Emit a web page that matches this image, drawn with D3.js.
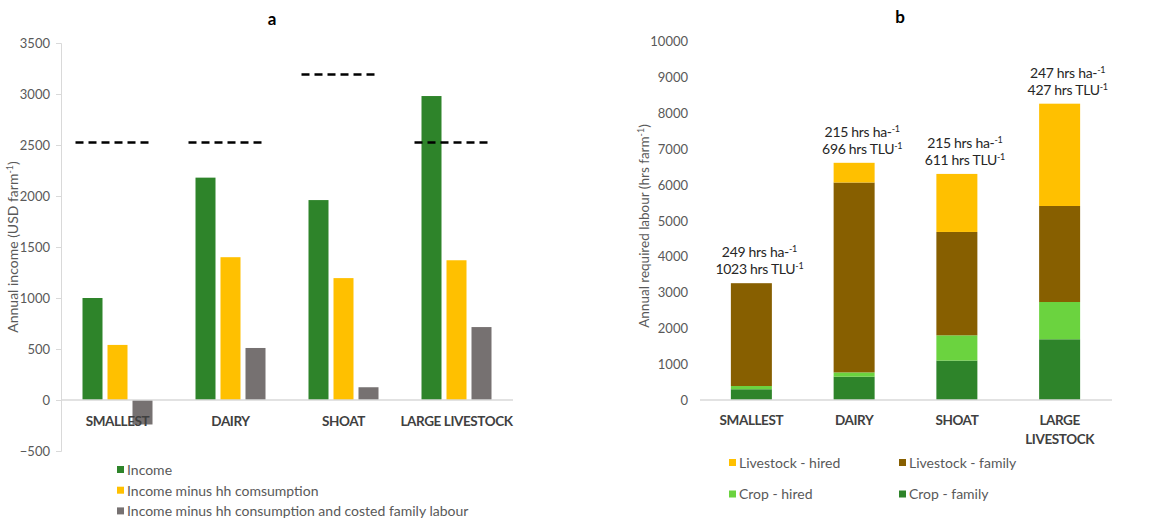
<!DOCTYPE html>
<html>
<head>
<meta charset="utf-8">
<script src="https://cdn.jsdelivr.net/npm/d3@7"></script>
<style>
  body { margin: 0; background: #fff; }
  svg { font-family: Lato, "Liberation Sans", sans-serif; }
</style>
</head>
<body>
<svg id="chart" width="1176" height="518"></svg>
<script>
// ---- data: panel a (income) ----
const categoriesA = ["SMALLEST", "DAIRY", "SHOAT", "LARGE LIVESTOCK"];
const income = [1000, 2180, 1960, 2980];
const incomeMinusHh = [540, 1400, 1195, 1370];
const incomeMinusHhLabour = [-240, 510, 125, 715];
const povertyLine = [2525, 2525, 3190, 2525];
const ticksA = [-500, 0, 500, 1000, 1500, 2000, 2500, 3000, 3500];
const seriesA = ["Income", "Income minus hh comsumption", "Income minus hh consumption and costed family labour"];

// ---- data: panel b (labour) ----
const categoriesB = ["SMALLEST", "DAIRY", "SHOAT", "LARGE LIVESTOCK"];
const cropFamily = [300, 650, 1100, 1695];
const cropHired = [90, 120, 705, 1040];
const livestockFamily = [2870, 5300, 2885, 2680];
const livestockHired = [0, 550, 1620, 2855];
const perHa = [249, 215, 215, 247];
const perTlu = [1023, 696, 611, 427];
const ticksB = [0, 1000, 2000, 3000, 4000, 5000, 6000, 7000, 8000, 9000, 10000];

const green = "#2e842a", yellow = "#ffc000", grey = "#767171";
const lightGreen = "#6bd33f", brown = "#875f00";
const tickColor = "#595959", axisColor = "#d9d9d9", catColor = "#404040";

const svg = d3.select("#chart");

// ================= panel a =================
const yA = d3.scaleLinear().domain([-500, 3500]).range([451, 43]);
const xA = d3.scaleBand().domain(categoriesA).range([61, 513]);
const barW = 20, barGap = 5;
const colorsA = [green, yellow, grey];
const valuesA = [income, incomeMinusHh, incomeMinusHhLabour];

svg.append("text")
  .attr("x", 272).attr("y", 25)
  .attr("text-anchor", "middle")
  .attr("font-weight", "bold").attr("font-size", 17)
  .attr("fill", "#000").text("a");

// y axis
const gA = svg.append("g").attr("transform", "translate(61,0)");
gA.call(d3.axisLeft(yA).tickValues(ticksA).tickSize(5).tickPadding(6).tickFormat(d3.format("d")));
gA.select(".domain").attr("stroke", axisColor);
gA.selectAll(".tick line").attr("stroke", axisColor);
gA.selectAll(".tick text").attr("fill", tickColor).attr("font-size", 13).attr("font-family", "Lato, sans-serif");

svg.append("text")
  .attr("transform", `translate(18,${(yA(3500) + yA(-500)) / 2}) rotate(-90)`)
  .attr("text-anchor", "middle")
  .attr("font-size", 14).attr("fill", tickColor)
  .call(t => {
    t.append("tspan").text("Annual income (USD farm");
    t.append("tspan").attr("font-size", 9).attr("dy", -5).text("-1");
    t.append("tspan").attr("dy", 5).text(")");
  });

// bars
valuesA.forEach((vals, s) => {
  svg.append("g").selectAll("rect")
    .data(vals)
    .join("rect")
    .attr("x", (d, i) => xA(categoriesA[i]) + xA.bandwidth() / 2 - (3 * barW + 2 * barGap) / 2 + s * (barW + barGap))
    .attr("y", d => yA(Math.max(0, d)))
    .attr("width", barW)
    .attr("height", d => Math.abs(yA(d) - yA(0)))
    .attr("fill", colorsA[s]);
});

// x axis line at zero
svg.append("line")
  .attr("x1", 61).attr("x2", 513)
  .attr("y1", yA(0)).attr("y2", yA(0))
  .attr("stroke", axisColor).attr("stroke-width", 1.5);

// dashed reference lines
svg.append("g").selectAll("line")
  .data(povertyLine)
  .join("line")
  .attr("x1", (d, i) => xA(categoriesA[i]) + xA.bandwidth() / 2 - 42)
  .attr("x2", (d, i) => xA(categoriesA[i]) + xA.bandwidth() / 2 + 36)
  .attr("y1", d => yA(d)).attr("y2", d => yA(d))
  .attr("stroke", "#000").attr("stroke-width", 2.5)
  .attr("stroke-dasharray", "8,5");

// category labels
svg.append("g").selectAll("text")
  .data(categoriesA)
  .join("text")
  .attr("x", d => xA(d) + xA.bandwidth() / 2)
  .attr("y", 426)
  .attr("text-anchor", "middle")
  .attr("font-weight", "bold").attr("font-size", 13.5)
  .attr("letter-spacing", -0.4)
  .attr("fill", catColor)
  .text(d => d);

// legend a
const legA = svg.append("g").selectAll("g")
  .data(seriesA)
  .join("g")
  .attr("transform", (d, i) => `translate(117,${470 + i * 20.7})`);
legA.append("rect").attr("x", 0).attr("y", -4).attr("width", 7).attr("height", 7)
  .attr("fill", (d, i) => colorsA[i]);
legA.append("text").attr("x", 10).attr("y", 4.8)
  .attr("font-size", 14).attr("fill", tickColor).text(d => d);

// ================= panel b =================
const yB = d3.scaleLinear().domain([0, 10000]).range([400, 41.7]);
const xB = d3.scaleBand().domain(categoriesB).range([700, 1111]);
const stackW = 41;

svg.append("text")
  .attr("x", 900).attr("y", 23)
  .attr("text-anchor", "middle")
  .attr("font-weight", "bold").attr("font-size", 17)
  .attr("fill", "#000").text("b");

const gB = svg.append("g").attr("transform", "translate(700,0)");
gB.call(d3.axisLeft(yB).tickValues(ticksB).tickSize(0).tickPadding(12).tickFormat(d3.format("d")));
gB.select(".domain").remove();
gB.selectAll(".tick text").attr("fill", tickColor).attr("font-size", 13).attr("font-family", "Lato, sans-serif");

svg.append("text")
  .attr("transform", `translate(649,226) rotate(-90)`)
  .attr("text-anchor", "middle")
  .attr("font-size", 13.5).attr("fill", tickColor)
  .call(t => {
    t.append("tspan").text("Annual required labour (hrs farm");
    t.append("tspan").attr("font-size", 9).attr("dy", -5).text("-1");
    t.append("tspan").attr("dy", 5).text(")");
  });

const keysB = ["cropFamily", "cropHired", "livestockFamily", "livestockHired"];
const colorsB = { cropFamily: green, cropHired: lightGreen, livestockFamily: brown, livestockHired: yellow };
const tableB = categoriesB.map((c, i) => ({
  cat: c,
  cropFamily: cropFamily[i],
  cropHired: cropHired[i],
  livestockFamily: livestockFamily[i],
  livestockHired: livestockHired[i]
}));
const stacked = d3.stack().keys(keysB)(tableB);

svg.append("g").selectAll("g")
  .data(stacked)
  .join("g")
  .attr("fill", d => colorsB[d.key])
  .selectAll("rect")
  .data(d => d)
  .join("rect")
  .attr("x", d => xB(d.data.cat) + xB.bandwidth() / 2 - stackW / 2)
  .attr("y", d => yB(d[1]))
  .attr("width", stackW)
  .attr("height", d => yB(d[0]) - yB(d[1]));

svg.append("line")
  .attr("x1", 700).attr("x2", 1112)
  .attr("y1", yB(0)).attr("y2", yB(0))
  .attr("stroke", axisColor).attr("stroke-width", 1.5);

// annotations above stacks
const totals = tableB.map(d => keysB.reduce((s, k) => s + d[k], 0));
const ann = svg.append("g").selectAll("g")
  .data(tableB)
  .join("g")
  .attr("transform", (d, i) => `translate(${xB(d.cat) + xB.bandwidth() / 2 + 8},${yB(totals[i])})`);
ann.append("text")
  .attr("y", -26).attr("text-anchor", "middle")
  .attr("font-size", 14).attr("fill", "#262626")
  .attr("letter-spacing", -0.3)
  .call(t => {
    t.append("tspan").text((d, i) => `${perHa[i]} hrs ha-`);
    t.append("tspan").attr("font-size", 9).attr("dy", -5).text("-1");
  });
ann.append("text")
  .attr("y", -9).attr("text-anchor", "middle")
  .attr("font-size", 14).attr("fill", "#262626")
  .attr("letter-spacing", -0.3)
  .call(t => {
    t.append("tspan").text((d, i) => `${perTlu[i]} hrs TLU`);
    t.append("tspan").attr("font-size", 9).attr("dy", -5).text("-1");
  });

// category labels (wrapped)
svg.append("g").selectAll("text")
  .data(categoriesB)
  .join("text")
  .attr("x", d => xB(d) + xB.bandwidth() / 2)
  .attr("y", 425)
  .attr("text-anchor", "middle")
  .attr("font-weight", "bold").attr("font-size", 13.5)
  .attr("letter-spacing", -0.4)
  .attr("fill", catColor)
  .each(function (d) {
    const words = d === "LARGE LIVESTOCK" ? ["LARGE", "LIVESTOCK"] : [d];
    words.forEach((w, j) => {
      d3.select(this).append("tspan")
        .attr("x", xB(d) + xB.bandwidth() / 2)
        .attr("dy", j === 0 ? 0 : 19)
        .text(w);
    });
  });

// legend b
const legendB = [
  { label: "Livestock - hired", color: yellow },
  { label: "Livestock - family", color: brown },
  { label: "Crop - hired", color: lightGreen },
  { label: "Crop - family", color: green }
];
const legB = svg.append("g").selectAll("g")
  .data(legendB)
  .join("g")
  .attr("transform", (d, i) => `translate(${i % 2 === 0 ? 729 : 899},${463 + Math.floor(i / 2) * 31.5})`);
legB.append("rect").attr("x", 0).attr("y", -4).attr("width", 7).attr("height", 7)
  .attr("fill", d => d.color);
legB.append("text").attr("x", 10).attr("y", 4.8)
  .attr("font-size", 14).attr("fill", tickColor).text(d => d.label);
</script>
</body>
</html>
